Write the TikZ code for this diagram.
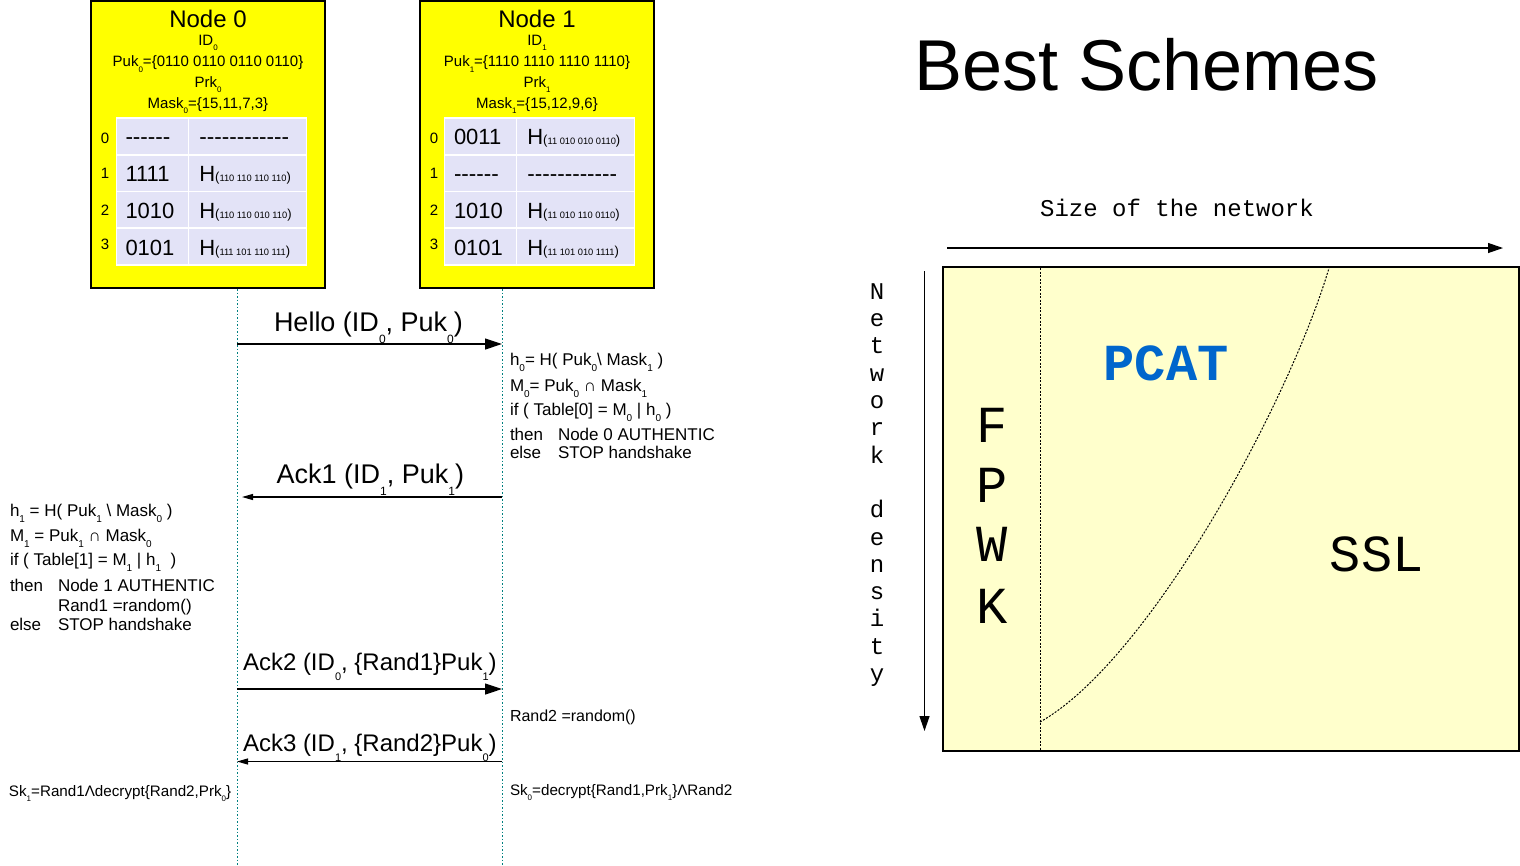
\documentclass[tikz,border=0pt]{standalone}
\usepackage{fontspec}
\setmainfont{Liberation Sans}
\newfontfamily\plainfam{Liberation Sans}
\newfontfamily\monofam{Liberation Mono}
\usetikzlibrary{arrows.meta}
\definecolor{nodeyellow}{HTML}{FFFF00}
\definecolor{lav}{HTML}{E3E3F7}
\definecolor{life}{HTML}{008080}
\definecolor{paleyellow}{HTML}{FFFFCC}
\definecolor{pcatblue}{HTML}{0066CC}
\newcommand{\fs}[1]{\fontsize{#1}{#1}\selectfont}
\newcommand{\lsub}[3]{\raisebox{-#1pt}{\fs{#2}#3}}
\newcommand{\hdsub}[1]{\lsub{5.5}{8}{#1}}
\newcommand{\bdsub}[1]{\lsub{6}{10}{#1}}
\newcommand{\msgsub}[1]{\lsub{12}{12}{#1}}
\newcommand{\msgsubb}[1]{\lsub{10}{11}{#1}}
\newcommand{\sksub}[1]{\lsub{5}{8}{#1}}
\newcommand{\hcell}[1]{H{\fs{13}(}{\fs{9.3}#1}{\fs{13})}}
\begin{document}
\begin{tikzpicture}[x=1pt,y=-1pt,
 box/.style={draw=black, line width=1.2pt, fill=nodeyellow},
 lt/.style={inner sep=0pt, outer sep=0pt, anchor=base west},
 ct/.style={inner sep=0pt, outer sep=0pt, anchor=base},
 hdr/.style={ct, font=\fs{15}},
 ttl/.style={ct, font=\fs{24}},
 idx/.style={ct, font=\fs{15}},
 cell/.style={lt, font=\fs{22}},
 dashcell/.style={lt, font=\plainfam\fs{22.5}},
 msg/.style={lt, font=\fs{27}},
 msgb/.style={lt, font=\fs{24}},
 body/.style={lt, font=\fs{17}},
 small/.style={lt, font=\fs{15.2}},
 lifeline/.style={draw=life, line width=1pt, dash pattern=on 1.5pt off 2pt},
 bigmsg/.style={draw=black, line width=1.2pt, -{Triangle[length=17pt,width=11pt]}},
 smallmsg/.style={draw=black, line width=1.2pt, -{Triangle[length=11pt,width=6pt]}},
 axisarrow/.style={draw=black, line width=1.2pt, -{Triangle[length=15pt,width=10pt]}},
 region/.style={draw=black, line width=1pt, dash pattern=on 2pt off 1.5pt},
 monolbl/.style={ct, font=\monofam\fs{24}},
 biglbl/.style={ct, font=\monofam\fs{52}},
 gridline/.style={draw=white, line width=1.5pt},
]
\useasboundingbox (0,0) rectangle (1520,865);

% ---------- node boxes ----------
\draw[box] (91,1) rectangle (325,288);
\draw[box] (420,1) rectangle (654,288);

% tables
\foreach \tx in {116.7,444.7} {
  \fill[lav] (\tx,118) rectangle ++(190,147);
  \draw[gridline] (\tx,118) rectangle ++(190,147);
  \foreach \ry in {155,191.7,228} \draw[gridline] (\tx,\ry) -- ++(190,0);
  \draw[gridline] (\tx+72,118) -- ++(0,147);
}

% Node 0 header
\node[ttl] (t0) at (208,27) {Node 0};
\node[hdr] (id0) at (208,45) {ID\hdsub{0}};
\node[hdr] (puk0) at (208,66.5) {Puk\hdsub{0}=\{0110 0110 0110 0110\}};
\node[hdr] (prk0) at (208,87) {Prk\hdsub{0}};
\node[hdr] (mask0) at (208,108) {Mask\hdsub{0}=\{15,11,7,3\}};

% Node 1 header
\node[ttl] (t1) at (537,27) {Node 1};
\node[hdr] (id1) at (537,45) {ID\hdsub{1}};
\node[hdr] (puk1) at (537,66.5) {Puk\hdsub{1}=\{1110 1110 1110 1110\}};
\node[hdr] (prk1) at (537,87) {Prk\hdsub{1}};
\node[hdr] (mask1) at (537,108) {Mask\hdsub{1}=\{15,12,9,6\}};

% Node 0 table text
\node[idx] (a0) at (105,143.3) {0};
\node[idx] (a1) at (105,178.3) {1};
\node[idx] (a2) at (105,215) {2};
\node[idx] (a3) at (105,249.3) {3};
\node[dashcell] (am0) at (125.5,144.5) {------};
\node[cell] (am1) at (125.5,181) {1111};
\node[cell] (am2) at (125.5,218.3) {1010};
\node[cell] (am3) at (125.5,255) {0101};
\node[dashcell] (ah0) at (199.3,144.5) {------------};
\node[cell] (ah1) at (199.3,181) {\hcell{110 110 110 110}};
\node[cell] (ah2) at (199.3,218.3) {\hcell{110 110 010 110}};
\node[cell] (ah3) at (199.3,255) {\hcell{111 101 110 111}};

% Node 1 table text
\node[idx] (b0) at (434,143.3) {0};
\node[idx] (b1) at (434,178.3) {1};
\node[idx] (b2) at (434,215) {2};
\node[idx] (b3) at (434,249.3) {3};
\node[cell] (bm0) at (454,144.5) {0011};
\node[dashcell] (bm1) at (454,181) {------};
\node[cell] (bm2) at (454,218.3) {1010};
\node[cell] (bm3) at (454,255) {0101};
\node[cell] (bh0) at (527.3,144.5) {\hcell{11 010 010 0110}};
\node[dashcell] (bh1) at (527.3,181) {------------};
\node[cell] (bh2) at (527.3,218.3) {\hcell{11 010 110 0110}};
\node[cell] (bh3) at (527.3,255) {\hcell{11 101 010 1111}};

% ---------- lifelines ----------
\coordinate (l0t) at (237,289);
\coordinate (l0b) at (237,865);
\coordinate (l1t) at (502,289);
\coordinate (l1b) at (502,865);
\draw[lifeline] (l0t) -- (l0b);
\draw[lifeline] (l1t) -- (l1b);

% ---------- messages ----------
\coordinate (hA) at (237,344);
\coordinate (hB) at (502,344);
\draw[bigmsg] (hA) -- (hB);
\node[msg] (hello) at (274,331) {Hello (ID\msgsub{0}, Puk\msgsub{0})};

\coordinate (k1A) at (502,497);
\coordinate (k1B) at (242,497);
\draw[smallmsg] (k1A) -- (k1B);
\node[msg] (ack1) at (276.7,483) {Ack1 (ID\msgsub{1}, Puk\msgsub{1})};

\coordinate (k2A) at (237,689);
\coordinate (k2B) at (502,689);
\draw[bigmsg] (k2A) -- (k2B);
\node[msgb] (ack2) at (243,670.7) {Ack2 (ID\msgsubb{0}, \{Rand1\}Puk\msgsubb{1})};

\coordinate (k3A) at (502,761.5);
\coordinate (k3B) at (237,761.5);
\draw[smallmsg] (k3A) -- (k3B);
\node[msgb] (ack3) at (243,751.7) {Ack3 (ID\msgsubb{1}, \{Rand2\}Puk\msgsubb{0})};

% ---------- right computation block ----------
\node[body] (r1) at (510,365.7) {h\bdsub{0}= H( Puk\bdsub{0}\textbackslash\ Mask\bdsub{1} )};
\node[body] (r2) at (510,391) {M\bdsub{0}= Puk\bdsub{0} ∩ Mask\bdsub{1}};
\node[body] (r3) at (510,415.7) {if ( Table[0] = M\bdsub{0} | h\bdsub{0} )};
\node[body] (r4) at (510,440) {then};
\node[body] (r4b) at (558,440) {Node 0 AUTHENTIC};
\node[body] (r5) at (510,458) {else};
\node[body] (r5b) at (558,458) {STOP handshake};

% ---------- left computation block ----------
\node[body] (q1) at (10,516.7) {h\bdsub{1} = H( Puk\bdsub{1} \textbackslash\ Mask\bdsub{0} )};
\node[body] (q2) at (10,541) {M\bdsub{1} = Puk\bdsub{1} ∩ Mask\bdsub{0}};
\node[body] (q3) at (10,565.7) {if ( Table[1] = M\bdsub{1} | h\bdsub{1} \ )};
\node[body] (q4) at (10,591) {then};
\node[body] (q4b) at (58,591) {Node 1 AUTHENTIC};
\node[body] (q5) at (58,611.7) {Rand1 =random()};
\node[body] (q6) at (10,630) {else};
\node[body] (q6b) at (58,630) {STOP handshake};

\node[lt, font=\fs{16}] (rand2) at (510,721) {Rand2 =random()};
\node[small] (sk1) at (9,796.5) {Sk\sksub{1}=Rand1Λdecrypt\{Rand2,Prk\sksub{0}\}};
\node[small] (sk0) at (510,795) {Sk\sksub{0}=decrypt\{Rand1,Prk\sksub{1}\}ΛRand2};

% ---------- Best Schemes ----------
\node[ct, font=\fs{72}] (title) at (1146.5,90) {Best Schemes};
\node[monolbl] (size) at (1177,216.7) {Size of the network};
\coordinate (hx0) at (947,248);
\coordinate (hx1) at (1503,248);
\draw[axisarrow] (hx0) -- (hx1);
\coordinate (vy0) at (924.5,271);
\coordinate (vy1) at (924.5,731);
\draw[axisarrow] (vy0) -- (vy1);
\foreach \c [count=\i] in {N,e,t,w,o,r,k,{},d,e,n,s,i,t,y}
  \node[monolbl] (nd\i) at (877,{299.3+(\i-1)*27.3}) {\c};

\coordinate (rtl) at (943,267);
\coordinate (rbr) at (1519,751);
\draw[fill=paleyellow, line width=1.2pt] (rtl) rectangle (rbr);
\coordinate (dv0) at (1040,268);
\coordinate (dv1) at (1040,750);
\draw[region] (dv0) -- (dv1);
\coordinate (cv0) at (1040,722);
\coordinate (cv1) at (1329,268);
\draw[region] (cv0) .. controls (1150,660) and (1290,400) .. (cv1);

\node[ct, font=\monofam\bfseries\fs{52}, text=pcatblue] (pcat) at (1166,380.7) {PCAT};
\node[biglbl] (ssl) at (1376.7,571.7) {SSL};
\foreach \c/\yy [count=\i] in {F/442.7,P/502,W/561.7,K/623}
  \node[biglbl] (fp\i) at (991.7,\yy) {\c};
\end{tikzpicture}
\end{document}
